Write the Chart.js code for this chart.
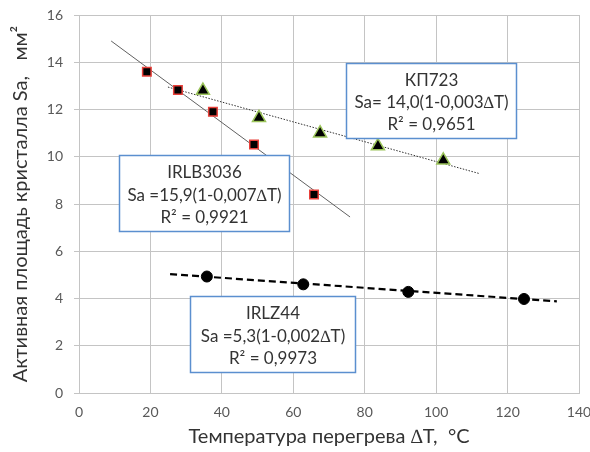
<!DOCTYPE html>
<html><head><meta charset="utf-8">
<script src="https://cdn.jsdelivr.net/npm/chart.js@4"></script>
<style>html,body{margin:0;padding:0;background:#fff}#wrap{width:590px;height:452px}</style>
</head><body><div id="wrap"><canvas id="c" width="590" height="452"></canvas></div>
<script>
// Data
const irlbX = [19.0, 27.7, 37.5, 49.0, 65.8];
const irlbY = [13.6, 12.83, 11.9, 10.52, 8.4];
const kpX = [34.7, 50.4, 67.5, 83.7, 102.0];
const kpY = [12.8, 11.65, 11.0, 10.45, 9.85];
const irlzX = [35.8, 62.8, 92.2, 124.6];
const irlzY = [4.93, 4.6, 4.28, 3.98];
// trendline end points
const irlbTrendX = [9.0, 75.9];
const irlbTrendY = [14.9, 7.45];
const kpTrendX = [24.9, 112.3];
const kpTrendY = [12.95, 9.28];
const irlzTrendX = [25.5, 133.8];
const irlzTrendY = [5.03, 3.88];
const xTicks = [0, 20, 40, 60, 80, 100, 120, 140];
const yTicks = [0, 2, 4, 6, 8, 10, 12, 14, 16];
const boxTexts = {
  irlb: ["IRLB3036", "Sa =15,9(1-0,007\u2206T)", "R\u00B2 = 0,9921"],
  kp: ["\u041A\u041F723", "Sa= 14,0(1-0,003\u2206T)", "R\u00B2 = 0,9651"],
  irlz: ["IRLZ44", "Sa =5,3(1-0,002\u2206T)", "R\u00B2 = 0,9973"]
};
const xTitle = "\u0422\u0435\u043C\u043F\u0435\u0440\u0430\u0442\u0443\u0440\u0430 \u043F\u0435\u0440\u0435\u0433\u0440\u0435\u0432\u0430 \u2206T,  \u00B0C";
const yTitle = "\u0410\u043A\u0442\u0438\u0432\u043D\u0430\u044F \u043F\u043B\u043E\u0449\u0430\u0434\u044C \u043A\u0440\u0438\u0441\u0442\u0430\u043B\u043B\u0430 Sa,   \u043C\u043C\u00B2";

const pts = (xs, ys) => xs.map((x, i) => ({x, y: ys[i]}));

// box placement in data coordinates: [xmin, xmax, ytop, ybottom]
const boxes = [
  {key: 'irlb', r: [11.2, 58.8, 10.07, 6.86]},
  {key: 'kp', r: [74.8, 122.4, 13.97, 10.79]},
  {key: 'irlz', r: [31.1, 77.3, 4.1, 0.89]}
];

const boxPlugin = {
  id: 'boxes',
  afterDatasetsDraw(chart) {
    const {ctx, scales: {x, y}} = chart;
    ctx.save();
    boxes.forEach(b => {
      const x0 = Math.round(x.getPixelForValue(b.r[0])) + 0.5;
      const x1 = Math.round(x.getPixelForValue(b.r[1])) + 0.5;
      const y0 = Math.round(y.getPixelForValue(b.r[2])) + 0.5;
      const y1 = Math.round(y.getPixelForValue(b.r[3])) + 0.5;
      ctx.fillStyle = '#ffffff';
      ctx.fillRect(x0, y0, x1 - x0, y1 - y0);
      ctx.strokeStyle = '#5b8fcf';
      ctx.lineWidth = 1.5;
      ctx.strokeRect(x0, y0, x1 - x0, y1 - y0);
      ctx.fillStyle = '#333333';
      ctx.font = '17px Lato';
      ctx.textAlign = 'center';
      ctx.textBaseline = 'middle';
      const lines = boxTexts[b.key];
      const cx = (x0 + x1) / 2;
      const h = y1 - y0;
      lines.forEach((t, i) => {
        ctx.fillText(t, cx, y0 + h * (0.225 + i * 0.297));
      });
    });
    ctx.restore();
  }
};

new Chart(document.getElementById('c'), {
  type: 'scatter',
  data: {
    datasets: [
      {data: pts(irlbX, irlbY), pointStyle: 'rect', pointRadius: 6, pointBackgroundColor: '#000', pointBorderColor: '#e8403a', pointBorderWidth: 1.5, showLine: false, order: 0},
      {data: pts(kpX, kpY), pointStyle: 'triangle', pointRadius: 7.5, pointBackgroundColor: '#000', pointBorderColor: '#9bc45a', pointBorderWidth: 1.5, showLine: false, order: 0},
      {data: pts(irlzX, irlzY), pointStyle: 'circle', pointRadius: 5.5, pointBackgroundColor: '#000', pointBorderColor: '#000', pointBorderWidth: 1, showLine: false, order: 0},
      {data: pts(irlbTrendX, irlbTrendY), showLine: true, borderColor: '#606060', borderWidth: 1, pointRadius: 0, order: 1},
      {data: pts(kpTrendX, kpTrendY), showLine: true, borderColor: '#303030', borderWidth: 1, borderDash: [1.5, 1.5], pointRadius: 0, order: 1},
      {data: pts(irlzTrendX, irlzTrendY), showLine: true, borderColor: '#000', borderWidth: 2.2, borderDash: [7, 4], pointRadius: 0, order: 1}
    ]
  },
  options: {
    responsive: false,
    animation: false,
    events: [],
    layout: {padding: {top: 15, right: 11, left: 0, bottom: 0}},
    plugins: {legend: {display: false}, tooltip: {enabled: false}},
    scales: {
      x: {
        type: 'linear', min: 0, max: 140,
        afterBuildTicks: s => { s.ticks = xTicks.map(v => ({value: v})); },
        afterFit: s => { s.height = 59; s.paddingLeft = 0; s.paddingRight = 0; },
        grid: {color: '#c4c4c4', lineWidth: 1, tickLength: 0, drawTicks: true},
        border: {color: '#c4c4c4'},
        ticks: {color: '#595959', font: {family: 'Lato', size: 14}, padding: 11, maxRotation: 0},
        title: {display: true, text: xTitle, color: '#333333', font: {family: 'Lato', size: 20}, padding: {top: 0, bottom: 3}}
      },
      y: {
        type: 'linear', min: 0, max: 16,
        afterBuildTicks: s => { s.ticks = yTicks.map(v => ({value: v})); },
        afterFit: s => { s.width = 79; s.paddingTop = 0; s.paddingBottom = 0; },
        grid: {color: '#c4c4c4', lineWidth: 1, tickLength: 5},
        border: {color: '#c4c4c4'},
        ticks: {color: '#595959', font: {family: 'Lato', size: 14}, padding: 11},
        title: {display: true, text: yTitle, color: '#333333', font: {family: 'Lato', size: 20}, padding: {top: 9, bottom: 0}}
      }
    }
  },
  plugins: [boxPlugin]
});
</script></body></html>
